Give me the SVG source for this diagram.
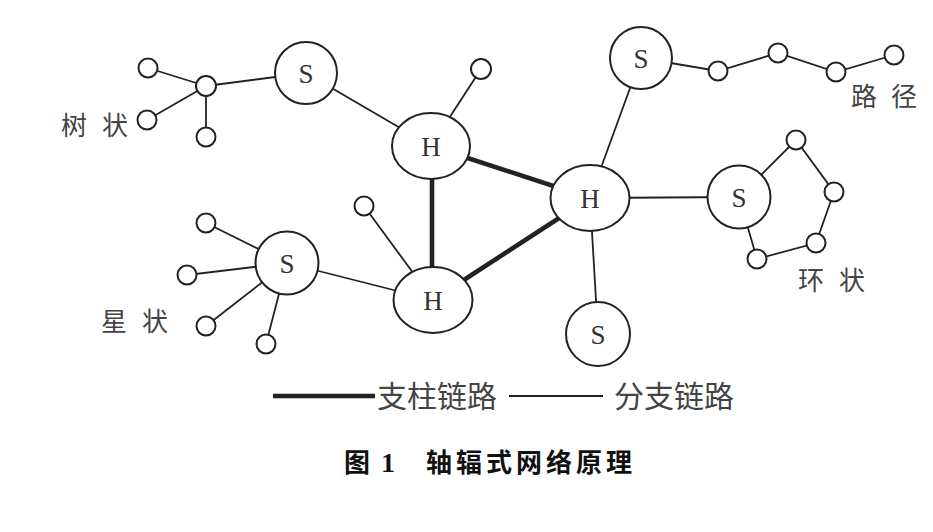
<svg xmlns="http://www.w3.org/2000/svg" width="933" height="532" viewBox="0 0 933 532">
<style>
.bg{fill:#fff}
.thin{stroke:#222;stroke-width:1.8;fill:none;stroke-linecap:round}
.thick{stroke:#222;stroke-width:4.6;fill:none}
.nd{fill:#fff;stroke:#222;stroke-width:2}
.lt{font-family:"Liberation Serif",serif;font-size:27px;fill:#333;text-anchor:middle;dominant-baseline:central}
.cj{font-family:"Noto Sans CJK SC",sans-serif;font-size:26px;fill:#444;font-weight:400}
.lg{font-family:"Noto Sans CJK SC",sans-serif;font-size:30px;fill:#444;font-weight:400}
.cap{font-family:"Noto Sans CJK SC",sans-serif;font-size:26px;fill:#111;font-weight:700}
</style>
<rect class="bg" width="933" height="532"/>
<g id="connectors">
  <line class="thin" x1="206" y1="86" x2="148" y2="68"/>
  <line class="thin" x1="206" y1="86" x2="147" y2="120"/>
  <line class="thin" x1="206" y1="86" x2="206" y2="137"/>
  <line class="thin" x1="206" y1="86" x2="306" y2="73"/>
  <line class="thin" x1="306" y1="73" x2="431" y2="146"/>
  <line class="thin" x1="431" y1="146" x2="481" y2="69"/>
  <line class="thin" x1="287" y1="263" x2="206" y2="223"/>
  <line class="thin" x1="287" y1="263" x2="187" y2="275"/>
  <line class="thin" x1="287" y1="263" x2="206" y2="326"/>
  <line class="thin" x1="287" y1="263" x2="266" y2="344"/>
  <line class="thin" x1="287" y1="263" x2="433" y2="300"/>
  <line class="thin" x1="433" y1="300" x2="364" y2="206"/>
  <line class="thin" x1="590" y1="198" x2="641" y2="58"/>
  <line class="thin" x1="590" y1="198" x2="739" y2="197"/>
  <line class="thin" x1="590" y1="198" x2="598" y2="334"/>
  <polyline class="thin" points="641,58 718,71 778,53 836,72 894,55"/>
  <polygon class="thin" points="739,197 796,140 834,192 816,243 757,259"/>
  <line class="thick" x1="432" y1="146" x2="432" y2="300"/>
  <line class="thick" x1="431" y1="146" x2="590" y2="198"/>
  <line class="thick" x1="433" y1="300" x2="590" y2="198"/>
</g>
<g id="tree">
  <circle class="nd" cx="148" cy="68" r="9.5"/>
  <circle class="nd" cx="206" cy="86" r="10"/>
  <circle class="nd" cx="147" cy="120" r="9.5"/>
  <circle class="nd" cx="206" cy="137" r="9.5"/>
</g>
<g id="S-tree"><circle class="nd" cx="306" cy="73" r="31"/><text class="lt" x="306" y="74">S</text></g>
<g id="leaf-top"><circle class="nd" cx="481" cy="69" r="10"/></g>
<g id="leaf-mid"><circle class="nd" cx="364" cy="206" r="9.5"/></g>
<g id="H-top"><ellipse class="nd" cx="431" cy="146" rx="39" ry="33"/><text class="lt" x="431" y="147">H</text></g>
<g id="H-bottom"><ellipse class="nd" cx="433" cy="300" rx="39.5" ry="33"/><text class="lt" x="433" y="301">H</text></g>
<g id="H-right"><ellipse class="nd" cx="590" cy="198" rx="39.5" ry="33"/><text class="lt" x="590" y="199">H</text></g>
<g id="star">
  <circle class="nd" cx="206" cy="223" r="9.5"/>
  <circle class="nd" cx="187" cy="275" r="9.5"/>
  <circle class="nd" cx="206" cy="326" r="9.5"/>
  <circle class="nd" cx="266" cy="344" r="9.5"/>
</g>
<g id="S-star"><circle class="nd" cx="287" cy="263" r="31.5"/><text class="lt" x="287" y="264">S</text></g>
<g id="S-path"><circle class="nd" cx="641" cy="58" r="31"/><text class="lt" x="641" y="59">S</text></g>
<g id="path">
  <circle class="nd" cx="718" cy="71" r="9.5"/>
  <circle class="nd" cx="778" cy="53" r="9.5"/>
  <circle class="nd" cx="836" cy="72" r="9.5"/>
  <circle class="nd" cx="894" cy="55" r="9.5"/>
</g>
<g id="S-ring"><circle class="nd" cx="739" cy="197" r="31.5"/><text class="lt" x="739" y="198">S</text></g>
<g id="ring">
  <circle class="nd" cx="796" cy="140" r="9.5"/>
  <circle class="nd" cx="834" cy="192" r="9.5"/>
  <circle class="nd" cx="816" cy="243" r="9.5"/>
  <circle class="nd" cx="757" cy="259" r="9.5"/>
</g>
<g id="S-bottom"><circle class="nd" cx="598" cy="334" r="32"/><text class="lt" x="598" y="335">S</text></g>
<g id="labels">
  <text class="cj" x="61" y="135">树</text><text class="cj" x="102" y="135">状</text>
  <text class="cj" x="101" y="331">星</text><text class="cj" x="142" y="331">状</text>
  <text class="cj" x="851" y="106">路</text><text class="cj" x="891" y="106">径</text>
  <text class="cj" x="798" y="290">环</text><text class="cj" x="839" y="290">状</text>
</g>
<g id="legend">
  <line class="thick" x1="273" y1="396" x2="375" y2="396"/>
  <text class="lg" x="377" y="407">支柱链路</text>
  <line class="thin" x1="509" y1="396" x2="603" y2="396" style="stroke-linecap:butt"/>
  <text class="lg" x="614" y="407">分支链路</text>
</g>
<g id="caption">
  <text class="cap" x="344" y="472">图</text>
  <text class="cap" x="381" y="472" style="font-family:'Liberation Serif',serif;font-size:28px">1</text>
  <text class="cap" x="426" y="472" style="letter-spacing:4px">轴辐式网络原理</text>
</g>
</svg>
